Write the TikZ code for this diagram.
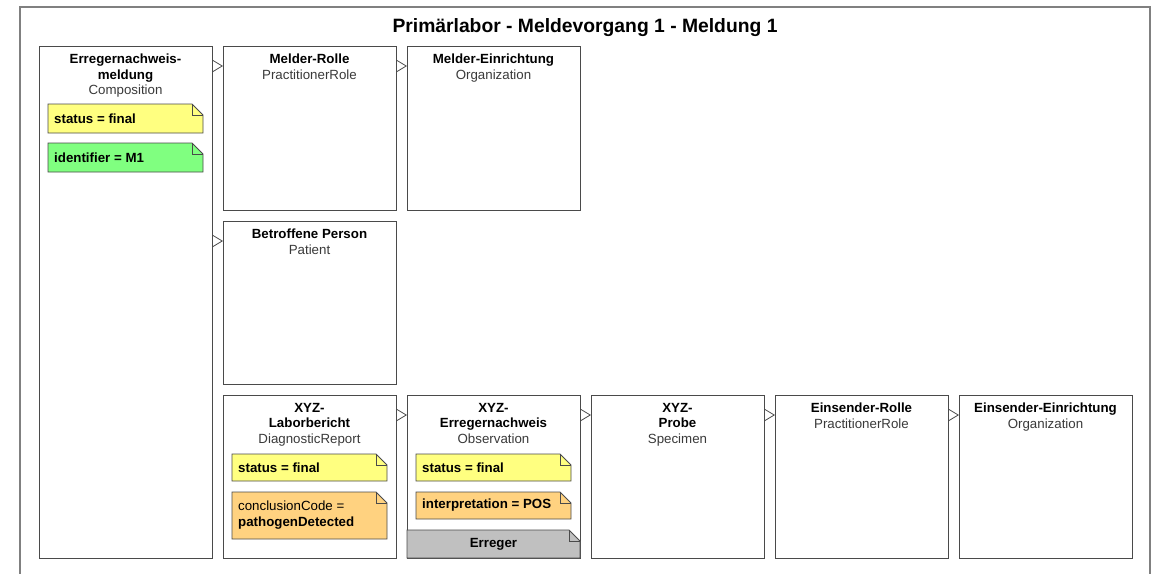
\documentclass[tikz,border=0pt]{standalone}
\usepackage{fontspec}
\setmainfont{Liberation Sans}
\usepackage{xcolor}
\usetikzlibrary{arrows.meta,calc}
\definecolor{edge}{HTML}{4A4A4A}
\definecolor{framegray}{HTML}{808080}
\definecolor{typegray}{HTML}{3A3A3A}
\definecolor{noteyellow}{HTML}{FFFF80}
\definecolor{notegreen}{HTML}{80FF80}
\definecolor{noteorange}{HTML}{FFD280}
\definecolor{notegray}{HTML}{C0C0C0}

% note with folded corner: name, fill, north west, south east, text
\newcommand{\notebox}[5]{%
  \coordinate (#1-nw) at #3; \coordinate (#1-se) at #4;
  \filldraw[notepath, fill=#2] (#1-nw) -- ($(#1-nw -| #1-se)+(-11pt,0)$)
    -- ($(#1-nw -| #1-se)+(0,-11pt)$) -- (#1-se) -- (#1-nw |- #1-se) -- cycle;
  \draw[notepath] ($(#1-nw -| #1-se)+(-11pt,0)$) -- ++(0,-11pt) -- ++(11pt,0);
  \node[notetext, anchor=west] (#1) at ($(#1-nw)!0.5!(#1-nw |- #1-se)+(6pt,0)$) {#5};
}
% reference from one class box to the next
\newcommand{\assoc}[2]{%
  \draw[assoc] ($(#1.east |- #2.north)+(0,-20pt)$) -- ($(#2.north west)+(0,-20pt)$);
}

\begin{document}
\begin{tikzpicture}[x=1pt, y=-1pt,
    cls/.style={draw=edge, line width=0.9pt, fill=white, outer sep=0pt,
      minimum width=173pt, minimum height=164pt, anchor=north west, inner sep=0pt},
    clstitle/.style={anchor=north, align=center, inner sep=0pt, yshift=-8pt,
      font=\fontsize{13.3}{15.5}\selectfont},
    notepath/.style={draw=edge, line width=0.9pt},
    notetext/.style={align=left, inner sep=0pt, font=\fontsize{13.3}{16}\selectfont},
    assoc/.style={draw=edge, line width=0.8pt,
      -{Triangle[length=11pt, width=13pt, fill=white]}},
    frame/.style={draw=framegray, line width=1.4pt}]
  \useasboundingbox (0,0) rectangle (1154,573);

  % Draw outer frame and title
  \draw[frame] (20,7) rectangle (1150,600);
  \node[anchor=base, font=\fontsize{19.3}{22}\selectfont\bfseries] (title) at (585,32)
    {Primärlabor - Meldevorgang 1 - Meldung 1};

  % Draw class boxes
  \node[cls, minimum height=512pt] (comp) at (39,46) {};
  \node[cls] (mrolle) at (223,46) {};
  \node[cls] (meinr) at (407,46) {};
  \node[cls, minimum height=163pt] (patient) at (223,221) {};
  \node[cls, minimum height=163pt] (bericht) at (223,395) {};
  \node[cls, minimum height=163pt] (nachweis) at (407,395) {};
  \node[cls, minimum height=163pt] (probe) at (591,395) {};
  \node[cls, minimum height=163pt] (erolle) at (775,395) {};
  \node[cls, minimum height=163pt] (eeinr) at (959,395) {};

  % Box headings
  \node[clstitle] (comp-t) at (comp.north) {\textbf{Erregernachweis-}\\\textbf{meldung}\\\textcolor{typegray}{Composition}};
  \node[clstitle] (mrolle-t) at (mrolle.north) {\textbf{Melder-Rolle}\\\textcolor{typegray}{PractitionerRole}};
  \node[clstitle] (meinr-t) at (meinr.north) {\textbf{Melder-Einrichtung}\\\textcolor{typegray}{Organization}};
  \node[clstitle] (patient-t) at (patient.north) {\textbf{Betroffene Person}\\\textcolor{typegray}{Patient}};
  \node[clstitle] (bericht-t) at (bericht.north) {\textbf{XYZ-}\\\textbf{Laborbericht}\\\textcolor{typegray}{DiagnosticReport}};
  \node[clstitle] (nachweis-t) at (nachweis.north) {\textbf{XYZ-}\\\textbf{Erregernachweis}\\\textcolor{typegray}{Observation}};
  \node[clstitle] (probe-t) at (probe.north) {\textbf{XYZ-}\\\textbf{Probe}\\\textcolor{typegray}{Specimen}};
  \node[clstitle] (erolle-t) at (erolle.north) {\textbf{Einsender-Rolle}\\\textcolor{typegray}{PractitionerRole}};
  \node[clstitle] (eeinr-t) at (eeinr.north) {\textbf{Einsender-Einrichtung}\\\textcolor{typegray}{Organization}};

  % Notes
  \notebox{comp-status}{noteyellow}{(48,104)}{(203,133)}{\textbf{status = final}}
  \notebox{comp-id}{notegreen}{(48,143)}{(203,172)}{\textbf{identifier = M1}}
  \notebox{bericht-status}{noteyellow}{(232,454)}{(387,481)}{\textbf{status = final}}
  \notebox{bericht-code}{noteorange}{(232,492)}{(387,539)}{conclusionCode =\\\textbf{pathogenDetected}}
  \notebox{nachweis-status}{noteyellow}{(416,454)}{(571,481)}{\textbf{status = final}}
  \notebox{nachweis-interp}{noteorange}{(416,492)}{(571,519)}{\textbf{interpretation = POS}}

  % Erreger bar at foot of observation
  \coordinate (erreger-nw) at (407,530); \coordinate (erreger-se) at (580,558);
  \filldraw[notepath, fill=notegray] (erreger-nw) -- ($(erreger-nw -| erreger-se)+(-11pt,0)$)
    -- ($(erreger-nw -| erreger-se)+(0,-11pt)$) -- (erreger-se) -- (erreger-nw |- erreger-se) -- cycle;
  \draw[notepath] ($(erreger-nw -| erreger-se)+(-11pt,0)$) -- ++(0,-11pt) -- ++(11pt,0);
  \node[notetext] (erreger) at ($(erreger-nw)!0.5!(erreger-se)$) {\textbf{Erreger}};

  % Draw references
  \assoc{comp}{mrolle}
  \assoc{mrolle}{meinr}
  \assoc{comp}{patient}
  \assoc{bericht}{nachweis}
  \assoc{nachweis}{probe}
  \assoc{probe}{erolle}
  \assoc{erolle}{eeinr}
\end{tikzpicture}
\end{document}
